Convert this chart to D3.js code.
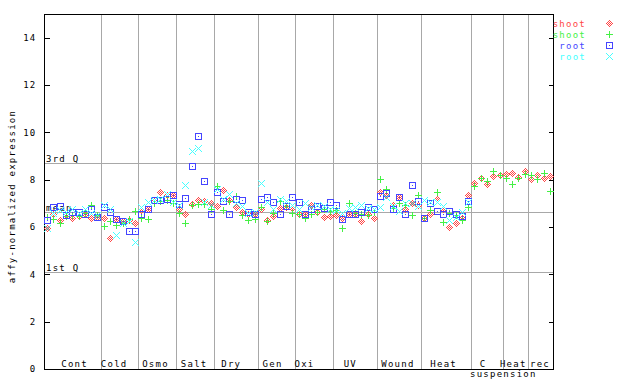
<!DOCTYPE html>
<html><head><meta charset="utf-8">
<script src="https://cdn.jsdelivr.net/npm/d3@7"></script>
<style>
html,body{margin:0;padding:0;background:#fff;}
svg{display:block;}
text{font-family:"DejaVu Sans Mono",monospace;font-size:9px;letter-spacing:1.25px;fill:#000;}
</style></head><body>
<svg id="chart" width="640" height="384"></svg>
<script>
// ---------- data ----------
const groups     = ["Cont","Cold","Osmo","Salt","Dry","Gen","Oxi","UV","Wound","Heat","C","Heat","rec"];
const groupSizes = [9,6,6,6,7,6,6,7,7,8,5,4,4];
const subLabel   = "suspension";
const seriesNames = ["shoot","shoot","root","root"];
const yTicks = [0,2,4,6,8,10,12,14];
const refLines = [
  {label:"3rd Q", value:8.70},
  {label:"mean",  value:6.63},
  {label:"1st Q", value:4.09}
];
const shoot1 = [
  5.95,6.57,6.29,6.50,6.36,6.45,6.57,6.40,6.42,
  6.36,5.52,6.32,6.26,6.29,6.19,
  6.71,6.74,7.10,7.46,7.36,7.34,
  6.78,6.54,6.97,7.13,7.10,7.02,
  6.90,7.58,7.13,6.85,6.65,6.55,6.57,
  6.75,6.29,6.45,6.80,6.85,6.81,
  6.57,6.53,6.95,6.64,6.43,6.47,
  6.50,6.40,6.55,6.55,6.26,6.57,6.40,
  7.48,7.35,6.92,7.27,6.78,7.00,6.95,
  6.40,6.53,7.20,6.78,5.98,6.18,6.40,7.34,
  7.84,8.05,7.80,8.15,8.19,
  8.23,8.30,8.12,8.37,
  8.01,8.19,8.05,8.15
];
const shoot2 = [
  6.43,6.32,6.15,6.45,6.50,6.46,6.60,6.92,6.50,
  6.04,6.25,6.08,6.15,6.32,6.68,
  6.40,6.32,7.00,7.10,7.15,7.00,
  6.60,6.19,6.92,6.97,6.97,6.78,
  7.72,6.71,7.10,7.30,6.50,6.30,6.35,
  6.85,6.25,6.60,7.09,6.90,6.60,
  6.57,6.36,6.53,6.64,6.75,6.67,
  6.70,5.94,7.02,6.60,6.55,6.50,6.65,
  8.01,7.59,6.80,7.00,6.92,6.50,7.34,
  6.36,6.70,7.46,6.22,6.60,6.50,6.29,6.83,
  7.72,8.05,7.94,8.36,8.19,
  8.05,7.80,8.09,8.23,
  8.19,8.01,8.29,7.53
];
const root1 = [
  6.29,6.83,6.88,6.50,6.64,6.64,6.57,6.74,6.42,
  6.85,6.64,6.32,6.26,5.83,5.83,
  6.53,6.74,7.13,7.16,7.20,7.34,
  6.97,7.23,8.57,9.84,7.94,6.53,
  7.48,7.09,6.53,7.20,7.13,6.64,6.53,
  7.20,7.25,7.04,6.57,6.89,7.25,
  7.04,6.53,6.74,6.89,6.81,7.06,
  6.92,6.32,6.53,6.53,6.64,6.83,6.75,
  7.30,7.44,6.74,7.27,6.57,7.77,7.10,
  6.40,7.00,6.67,6.55,6.67,6.57,6.47,7.10,
  null,null,null,null,null,
  null,null,null,null,
  null,null,null,null
];
const root2 = [
  5.94,6.60,6.70,6.62,6.75,6.60,6.74,6.60,6.50,
  6.95,6.74,5.66,6.15,6.25,5.37,
  6.83,7.04,7.13,7.20,7.39,7.06,
  6.95,7.77,9.20,9.32,7.06,6.95,
  7.60,7.20,7.39,7.00,6.90,6.60,6.65,
  7.88,7.04,6.75,7.20,7.09,6.95,
  6.78,7.00,6.85,6.95,6.90,6.75,
  6.70,6.60,6.80,6.85,6.92,6.80,6.75,
  6.83,7.25,6.90,6.68,7.02,7.00,6.88,
  7.13,7.04,7.04,6.88,6.29,6.43,6.64,7.06,
  null,null,null,null,null,
  null,null,null,null,
  null,null,null,null
];

// ---------- layout / style ----------
const colors = ["#ff4545","#45f045","#4545ff","#45ffff"];
const shapes = ["diamond","plus","square","cross"];
const labelShift = [1.7,-5.8,-2.2,-1.2,-5,-4.5,-10.3,-5.3,-1.7,-3.1,-4.5,-2.6,-1];
const L=44, R=553, T=14, B=369;
const nPts = d3.sum(groupSizes);

const svg = d3.select("#chart");
const x = d3.scaleLinear().domain([-0.5, nPts-0.5]).range([L,R]);
const y = d3.scaleLinear().domain([0,15]).range([B,T]);
const px = v => Math.round(v)+0.5;

// group boundaries
const starts = []; let acc=0;
groupSizes.forEach(s=>{starts.push(acc); acc+=s;});

// vertical separators
svg.append("g").selectAll("line").data(starts.slice(1)).join("line")
  .attr("x1",d=>px(x(d-0.5))).attr("x2",d=>px(x(d-0.5)))
  .attr("y1",T).attr("y2",B)
  .attr("stroke","#a8a8a8").attr("shape-rendering","crispEdges");

// reference lines
const rg = svg.append("g");
rg.selectAll("line").data(refLines).join("line")
  .attr("x1",L).attr("x2",R)
  .attr("y1",d=>px(y(d.value))).attr("y2",d=>px(y(d.value)))
  .attr("stroke","#a8a8a8").attr("shape-rendering","crispEdges");
rg.selectAll("text").data(refLines).join("text")
  .attr("x",L+2).attr("y",d=>Math.round(y(d.value))-1)
  .text(d=>d.label);

// axes
const ax = svg.append("g").attr("transform",`translate(${L+0.5},0)`)
  .call(d3.axisLeft(y).tickValues(yTicks).tickSizeInner(-5).tickSizeOuter(0).tickPadding(8).tickFormat(d3.format("d")));
ax.select(".domain").remove();
ax.selectAll("line").attr("stroke","#000").attr("shape-rendering","crispEdges");
ax.selectAll("text").style("font-family",'"DejaVu Sans Mono",monospace').style("font-size","9px");
const axr = svg.append("g").attr("transform",`translate(${R+0.5},0)`)
  .call(d3.axisRight(y).tickValues(yTicks).tickSizeInner(-5).tickSizeOuter(0).tickFormat(""));
axr.select(".domain").remove();
axr.selectAll("line").attr("stroke","#000").attr("shape-rendering","crispEdges");

// frame
svg.append("rect").attr("x",L+0.5).attr("y",T+0.5).attr("width",R-L).attr("height",B-T)
  .attr("fill","none").attr("stroke","#000").attr("shape-rendering","crispEdges");

// y title
svg.append("text").attr("transform",`translate(15,${(T+B)/2+5}) rotate(-90)`)
  .attr("text-anchor","middle").text("affy-normalized expression");

// group labels
svg.append("g").selectAll("text").data(groups).join("text")
  .attr("x",(d,i)=>(x(starts[i]-0.5)+x(starts[i]+groupSizes[i]-0.5))/2+labelShift[i]+0.6)
  .attr("y",367).attr("text-anchor","middle").text(d=>d);
svg.append("text").attr("x",x(starts[11]-0.5)+0.6).attr("y",377)
  .attr("text-anchor","middle").text(subLabel);

// marker pixel paths
function pix(cx,cy,cells){return cells.map(([a,b])=>`M${cx+a},${cy+b}h1v1h-1z`).join("");}
const cellSets = {};
cellSets.diamond=[];cellSets.plus=[];cellSets.square=[];cellSets.cross=[];
for(let a=-3;a<=3;a++)for(let b=-3;b<=3;b++){
  if(Math.abs(a)+Math.abs(b)<=3 && ((a+b)%2+2)%2===1) cellSets.diamond.push([a,b]);
  if(a===0||b===0) cellSets.plus.push([a,b]);
  if(Math.abs(a)===3||Math.abs(b)===3||(a===0&&b===0)) cellSets.square.push([a,b]);
  if(Math.abs(a)===Math.abs(b)) cellSets.cross.push([a,b]);
}
function marker(shape,cx,cy){return pix(cx,cy,cellSets[shape]);}

const series=[shoot1,shoot2,root1,root2];
series.forEach((vals,si)=>{
  svg.append("g").selectAll("path")
    .data(vals.map((v,i)=>({v,i})).filter(d=>d.v!==null))
    .join("path")
    .attr("d",d=>marker(shapes[si],Math.round(x(d.i)),Math.round(y(d.v))))
    .attr("fill",colors[si]).attr("shape-rendering","crispEdges");
});

// legend
const lg = svg.append("g");
seriesNames.forEach((n,i)=>{
  const by = 27+11*i;
  lg.append("text").attr("x",586).attr("y",by).attr("text-anchor","end")
    .attr("fill",colors[i]).style("fill",colors[i]).text(n);
  lg.append("path").attr("d",marker(shapes[i],609,by-4)).attr("fill",colors[i]).attr("shape-rendering","crispEdges");
});
</script></body></html>
